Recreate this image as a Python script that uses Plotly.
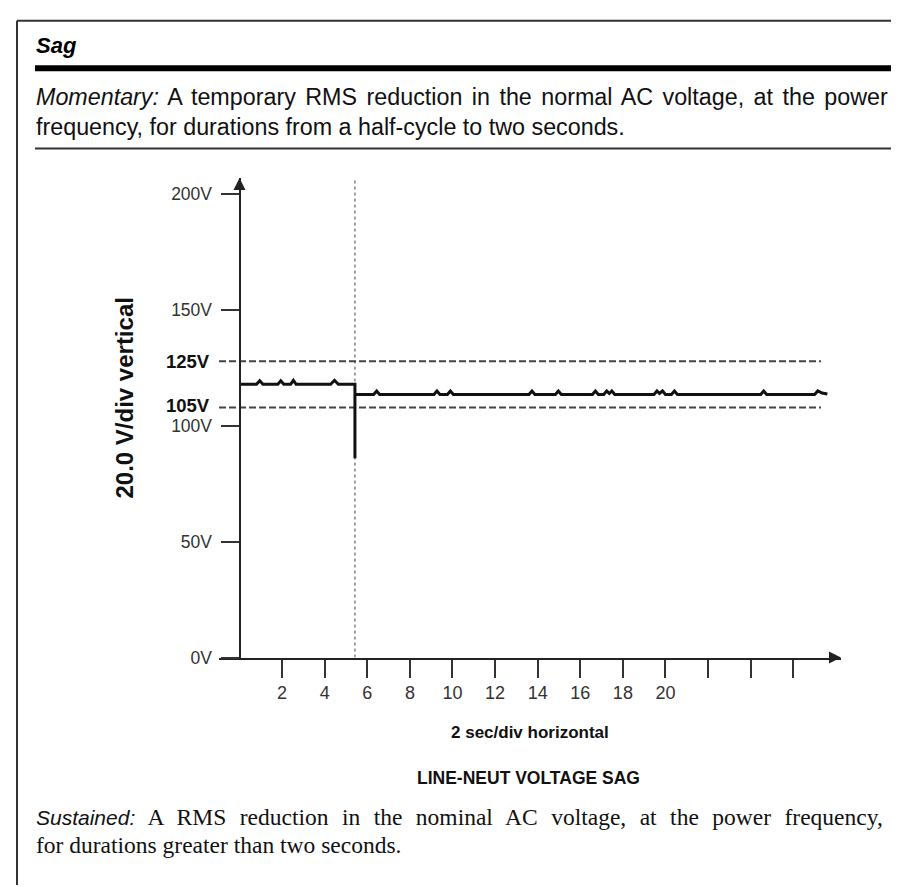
import plotly.graph_objects as go

W, H = 899, 887

# ---------------- data ----------------
y_tick_vals = [0, 50, 100, 150, 200]
y_tick_text = ["0V", "50V", "100V", "150V", "200V"]
x_tick_vals = [2, 4, 6, 8, 10, 12, 14, 16, 18, 20, 22, 24, 26]
x_tick_text = ["2", "4", "6", "8", "10", "12", "14", "16", "18", "20", "", "", ""]

limit_levels = [127.9, 108.0]          # where the limit lines sit on the drawn scale
limit_labels = ["125V", "105V"]
limit_x = [-0.96, 27.3]

event_time = 5.42                      # sag instant (s)
event_marker_v = [0, 206]

sig_t = [0.00, 0.80, 0.95, 1.10, 1.80, 1.94, 2.08, 2.40, 2.53, 2.66, 4.28, 4.46, 4.64,
         5.42, 5.42, 5.42,
         6.30, 6.44, 6.58, 9.13, 9.27, 9.41, 9.76, 9.90, 10.04, 13.59, 13.73, 13.87,
         14.83, 14.97, 15.11, 16.57, 16.71, 16.85, 17.10, 17.24, 17.36, 17.48, 17.62,
         19.46, 19.60, 19.72, 19.86, 20.00, 20.28, 20.42, 20.56, 24.47, 24.61, 24.75,
         27.00, 27.15, 27.35, 27.60]
sig_v = [118.0, 118.0, 119.5, 118.0, 118.0, 119.5, 118.0, 118.0, 119.7, 118.0, 118.0, 119.7, 118.0,
         118.0, 86.0, 113.6,
         113.6, 115.1, 113.6, 113.6, 115.1, 113.6, 113.6, 115.1, 113.6, 113.6, 115.1, 113.6,
         113.6, 115.1, 113.6, 113.6, 115.1, 113.6, 113.6, 115.1, 114.0, 115.1, 113.6,
         113.6, 115.1, 114.0, 115.1, 113.6, 113.6, 115.1, 113.6, 113.6, 115.1, 113.6,
         113.6, 115.1, 114.2, 113.8]

X_RANGE = [-0.962, 28.24]
Y_RANGE = [0, 207]

heading = "Sag"
momentary_lines = ["<span style='word-spacing:3px'><i>Momentary:</i> A temporary RMS reduction in the normal AC voltage, at the power</span>",
                   "frequency, for durations from a half-cycle to two seconds."]
sustained_lines = ["<span style='font-family:Liberation Sans;font-size:21px'><i>Sustained:</i></span>"
                   "<span style='word-spacing:7.6px'> A RMS reduction in the nominal AC voltage, at the power frequency,</span>",
                   "for durations greater than two seconds."]
y_title = "20.0 V/div vertical"
x_title = "2 sec/div horizontal"
chart_title = "LINE-NEUT VOLTAGE SAG"


def px(x):
    return x / W


def py(y):
    return 1 - y / H


SANS = "Liberation Sans, Arial, Helvetica, sans-serif"
SERIF = "Liberation Serif, Times New Roman, serif"

fig = go.Figure()

# limit lines
for lv in limit_levels:
    fig.add_trace(go.Scatter(x=limit_x, y=[lv, lv], mode="lines",
                             line=dict(color="#444", width=2, dash="7px,3px"),
                             hoverinfo="skip", showlegend=False))

# event marker (dotted)
fig.add_trace(go.Scatter(x=[event_time, event_time], y=event_marker_v, mode="lines",
                         line=dict(color="#444", width=1, dash="dot"),
                         hoverinfo="skip", showlegend=False))

# RMS trace
fig.add_trace(go.Scatter(x=sig_t, y=sig_v, mode="lines",
                         line=dict(color="#111", width=3, shape="linear"),
                         hoverinfo="skip", showlegend=False))

fig.update_layout(
    width=W, height=H,
    margin=dict(l=0, r=0, t=0, b=0),
    paper_bgcolor="white", plot_bgcolor="white",
    showlegend=False,
    xaxis=dict(domain=[px(211), px(833)], range=X_RANGE, anchor="y",
               showline=True, linecolor="#222", linewidth=2,
               ticks="outside", ticklen=18, tickwidth=2, tickcolor="#333",
               tickvals=x_tick_vals, ticktext=x_tick_text,
               tickfont=dict(family=SANS, size=18, color="#333"),
               showgrid=False, zeroline=False, fixedrange=True),
    yaxis=dict(domain=[py(657), py(172)], range=Y_RANGE, anchor="free",
               position=px(231.5),
               showline=True, linecolor="#222", linewidth=2,
               ticks="outside", ticklen=18, tickwidth=2, tickcolor="#333",
               tickvals=y_tick_vals, ticktext=y_tick_text,
               tickfont=dict(family=SANS, size=17.5, color="#333"),
               ticklabelstandoff=5,
               showgrid=False, zeroline=False, fixedrange=True),
)

ann = []
# axis arrowheads
ann.append(dict(x=0, y=Y_RANGE[1], xref="x", yref="y", ax=0, ay=12, axref="pixel", ayref="pixel",
                showarrow=True, arrowhead=2, arrowsize=1.2, arrowwidth=2, arrowcolor="#222", text=""))
ann.append(dict(x=X_RANGE[1], y=0, xref="x", yref="y", ax=-12, ay=0,
                showarrow=True, arrowhead=2, arrowsize=1.2, arrowwidth=2, arrowcolor="#222", text=""))

# limit labels
for lv, lt, ys in zip(limit_levels, limit_labels, [0, 2]):
    ann.append(dict(x=px(204), y=lv, xref="paper", yref="y", text="<b>" + lt + "</b>",
                    xanchor="right", yanchor="middle", showarrow=False, yshift=ys,
                    font=dict(family=SANS, size=18.5, color="#111")))

# axis titles
ann.append(dict(x=px(117), y=py(394), xref="paper", yref="paper", text="<b>" + y_title + "</b>",
                textangle=-90, showarrow=False, xanchor="center", yanchor="middle",
                font=dict(family=SANS, size=24, color="#111")))
ann.append(dict(x=px(522), y=py(733), xref="paper", yref="paper", text="<b>" + x_title + "</b>",
                showarrow=False, xanchor="center", yanchor="middle",
                font=dict(family=SANS, size=17, color="#111")))
ann.append(dict(x=px(520), y=py(779), xref="paper", yref="paper", text="<b>" + chart_title + "</b>",
                showarrow=False, xanchor="center", yanchor="middle",
                font=dict(family=SANS, size=17.5, color="#111")))

# heading + descriptions
ann.append(dict(x=px(26), y=py(38), xref="paper", yref="paper", text="<b><i>" + heading + "</i></b>",
                showarrow=False, xanchor="left", yanchor="middle",
                font=dict(family=SANS, size=22, color="#000")))
for i, line in enumerate(momentary_lines):
    ann.append(dict(x=px(26), y=py(90 + 30 * i), xref="paper", yref="paper", text=line,
                    showarrow=False, xanchor="left", yanchor="middle",
                    font=dict(family=SANS, size=23.3, color="#111")))
for i, line in enumerate(sustained_lines):
    ann.append(dict(x=px(26), y=py(818 + 29 * i), xref="paper", yref="paper", text=line,
                    showarrow=False, xanchor="left", yanchor="middle",
                    font=dict(family=SERIF, size=23.5, color="#111")))
fig.update_layout(annotations=ann)

# frame lines
shapes = [
    dict(type="line", xref="paper", yref="paper", x0=px(9), x1=1, y0=py(13), y1=py(13),
         line=dict(color="#333", width=2)),
    dict(type="line", xref="paper", yref="paper", x0=px(9), x1=px(9), y0=py(13), y1=0,
         line=dict(color="#333", width=2)),
    dict(type="line", xref="paper", yref="paper", x0=px(27), x1=px(897), y0=py(61), y1=py(61),
         line=dict(color="#000", width=6)),
    dict(type="line", xref="paper", yref="paper", x0=px(27), x1=px(897), y0=py(142), y1=py(142),
         line=dict(color="#333", width=2)),
]
fig.update_layout(shapes=shapes)

fig.write_html("out.html")
